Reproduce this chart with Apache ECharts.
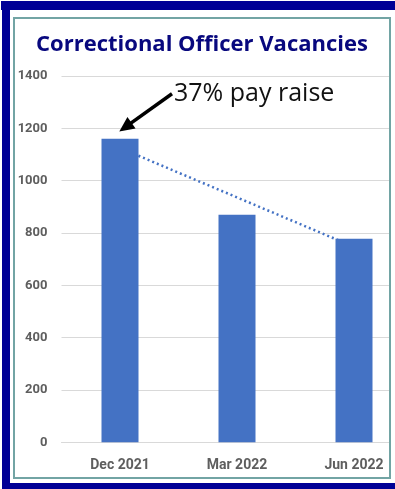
<!DOCTYPE html>
<html>
<head>
<meta charset="utf-8">
<script src="https://cdn.jsdelivr.net/npm/echarts@6/dist/echarts.min.js"></script>
<style>
  html, body { margin: 0; padding: 0; background: #ffffff; }
  #chart { width: 395px; height: 489px; }
</style>
</head>
<body>
<div id="chart"></div>
<script>
// Quarterly correctional officer vacancy counts
const categories = ['Dec 2021', 'Mar 2022', 'Jun 2022'];
const vacancies = [1160, 870, 778];
// Linear trend line across the three quarters
const trendValues = [1125, 936, 747];
// Value axis ticks: 0 to 1400 in steps of 200
const yMin = 0;
const yMax = 1400;
const yStep = 200;
const titleText = 'Correctional Officer Vacancies';
const noteText = '37% pay raise';

const BAR_BLUE = '#4472C4';
const NAVY = '#000096';
const TITLE_NAVY = '#08087E';
const TEAL = '#72A4A4';
const LABEL_GREY = '#5E5E5E';

const chart = echarts.init(document.getElementById('chart'), null, { renderer: 'canvas' });

const frameGraphics = [
  // white strip hiding the plot overflow on the right
  { type: 'rect', z: 100, shape: { x: 391, y: 0, width: 10, height: 489 }, style: { fill: '#ffffff' } },
  // inner teal frame
  { type: 'rect', z: 101, shape: { x: 14, y: 18, width: 376, height: 460 },
    style: { fill: null, stroke: TEAL, lineWidth: 2 } },
  // outer navy frame
  { type: 'rect', z: 102, shape: { x: 1, y: 1, width: 394, height: 9 }, style: { fill: NAVY } },
  { type: 'rect', z: 102, shape: { x: 2, y: 1, width: 8, height: 488 }, style: { fill: NAVY } },
  { type: 'rect', z: 102, shape: { x: 2, y: 483, width: 393, height: 6 }, style: { fill: NAVY } },
  // chart title
  { type: 'text', z: 103, x: 202, y: 45,
    style: { text: titleText, fill: TITLE_NAVY, font: 'bold 22px "Open Sans"', textAlign: 'center', textVerticalAlign: 'middle' } }
];

chart.setOption({
  animation: false,
  backgroundColor: '#ffffff',
  grid: { left: 61.5, width: 351, top: 76, bottom: 46.7, containLabel: false, outerBoundsMode: 'none' },
  xAxis: {
    type: 'category',
    data: categories,
    boundaryGap: true,
    axisLine: { show: true, lineStyle: { color: '#D9D9D9', width: 1 } },
    axisTick: { show: false },
    axisLabel: {
      color: LABEL_GREY, fontFamily: 'Roboto', fontWeight: 'bold',
      fontSize: 14, margin: 16
    },
    splitLine: { show: false }
  },
  yAxis: {
    type: 'value',
    min: yMin, max: yMax, interval: yStep,
    axisLine: { show: false },
    axisTick: { show: false },
    axisLabel: {
      color: LABEL_GREY, fontFamily: 'Roboto', fontWeight: 'bold',
      fontSize: 13, margin: 14,
      formatter: (v) => String(v)
    },
    splitLine: { show: true, lineStyle: { color: '#D9D9D9', width: 1 } }
  },
  series: [
    {
      name: 'Trend',
      type: 'line',
      data: trendValues,
      z: 1,
      symbol: 'none',
      silent: true,
      lineStyle: { color: BAR_BLUE, width: 2.5, type: [2, 3], cap: 'butt' }
    },
    {
      name: 'Vacancies',
      type: 'bar',
      data: vacancies,
      z: 2,
      barWidth: 37,
      itemStyle: { color: BAR_BLUE }
    }
  ],
  graphic: frameGraphics
});

// Callout arrow pointing at the December 2021 bar
const barTop = chart.convertToPixel({ seriesIndex: 1 }, [0, vacancies[0]]);
const tip = [barTop[0] - 0.7, barTop[1] - 7.3];
const tail = [barTop[0] + 52, barTop[1] - 45];
const dx = tip[0] - tail[0], dy = tip[1] - tail[1];
const len = Math.sqrt(dx * dx + dy * dy);
const ux = dx / len, uy = dy / len;
const headLen = 15, headHalf = 7;
const base = [tip[0] - ux * headLen, tip[1] - uy * headLen];
const px = -uy, py = ux;

chart.setOption({
  graphic: frameGraphics.concat([
    { type: 'line', z: 50,
      shape: { x1: tail[0], y1: tail[1], x2: base[0] + ux * 2, y2: base[1] + uy * 2 },
      style: { stroke: '#000000', lineWidth: 3.5 } },
    { type: 'polygon', z: 50,
      shape: { points: [tip, [base[0] + px * headHalf, base[1] + py * headHalf], [base[0] - px * headHalf, base[1] - py * headHalf]] },
      style: { fill: '#000000' } },
    { type: 'text', z: 50, x: tail[0] + 2, y: tail[1] + 0,
      style: { text: noteText, fill: '#111111', font: '25px "Open Sans"', textAlign: 'left', textVerticalAlign: 'middle' } }
  ])
});
</script>
</body>
</html>
